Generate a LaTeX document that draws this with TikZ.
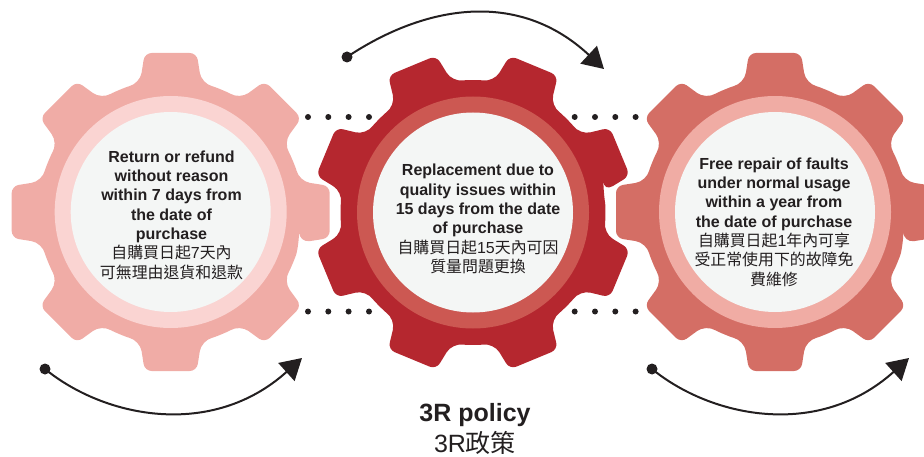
\documentclass[tikz,border=0pt]{standalone}
\usepackage{fontspec}
\setmainfont{Liberation Sans}
\newfontfamily\cjk{Noto Sans CJK TC}
\usetikzlibrary{arrows.meta}
\definecolor{inkc}{HTML}{231F20}
\definecolor{coreC}{HTML}{F4F6F5}
\definecolor{gearA}{HTML}{F0ACA6}
\definecolor{ringA}{HTML}{FAD4D2}
\definecolor{gearB}{HTML}{B5272F}
\definecolor{ringB}{HTML}{CC5852}
\definecolor{gearC}{HTML}{D46E65}
\definecolor{ringC}{HTML}{F0ACA4}
\tikzset{
  ringdisc/.style={circle,inner sep=0pt,minimum size=232pt,fill=#1},
  coredisc/.style={circle,inner sep=0pt,minimum size=200pt,fill=coreC},
  gearlabel/.style={align=center,inner sep=0pt,text=inkc,font=\fontsize{16}{19.3}\selectfont},
  dotmark/.style={circle,inner sep=0pt,minimum size=6pt,fill=inkc},
  startmark/.style={circle,inner sep=0pt,minimum size=11pt,fill=inkc},
  turn/.style={draw=inkc,line width=2pt,-{Triangle[length=21pt,width=24pt]}},
  titlelabel/.style={inner sep=0pt,text=inkc,font=\fontsize{25}{28}\selectfont}
}
\newcommand{\gearshape}[4]{% centre x, y, phase, colour
  \fill[#4,rounded corners=11pt,shift={(#1,#2)}]
    ({#3-13.5}:132)
    \foreach \a in {0,45,...,315} {
      [rounded corners=7pt]
      -- ([rotate={\a+#3}]159,-26)
      -- ([rotate={\a+#3}]159,26) [rounded corners=11pt]
      -- ({\a+#3+13.5}:132)
      arc[start angle={\a+#3+13.5},delta angle=18,radius=132]
    } -- cycle;
}
\newcommand{\zh}[1]{{\cjk\fontsize{15.9}{19.3}\selectfont #1}}
\begin{document}
\begin{tikzpicture}[x=1pt,y=1pt]
\useasboundingbox (0,0) rectangle (924,456);
\clip (0,0) rectangle (924,456);
% dots
\foreach \i/\px in {1/308,2/328.3,3/348.6,4/369,5/574.7,6/595,7/615.3,8/635.6} {
  \node[dotmark] (dt\i) at (\px,339) {};
  \node[dotmark] (db\i) at (\px,144.5) {};
}
% gears
\gearshape{170.7}{244}{0}{gearA}
\gearshape{473}{243.5}{22.5}{gearB}
\gearshape{775}{244}{0}{gearC}
\node[ringdisc=ringA] (ringa) at (170.7,244) {};
\node[ringdisc=ringB] (ringb) at (473,243.5) {};
\node[ringdisc=ringC] (ringc) at (775,244) {};
\node[coredisc] (corea) at (170.7,244) {};
\node[coredisc] (coreb) at (473,243.5) {};
\node[coredisc] (corec) at (775,244) {};
% texts
\node[gearlabel] (texta) at (171.5,241) {\textbf{Return or refund}\\\textbf{without reason}\\\textbf{within 7 days from}\\\textbf{the date of}\\\textbf{purchase}\\\zh{自購買日起}7\zh{天內}\\\zh{可無理由退貨和退款}};
\node[gearlabel] (textb) at (478,237) {\textbf{Replacement due to}\\\textbf{quality issues within}\\\textbf{15 days from the date}\\\textbf{of purchase}\\\zh{自購買日起}15\zh{天內可因}\\\zh{質量問題更換}};
\node[gearlabel] (textc) at (774,234) {\textbf{Free repair of faults}\\\textbf{under normal usage}\\\textbf{within a year from}\\\textbf{the date of purchase}\\\zh{自購買日起}1\zh{年內可享}\\\zh{受正常使用下的故障免}\\\zh{費維修}};
% turn arrows
\node[startmark] (sa) at (45,87) {};
\node[startmark] (sb) at (347,399) {};
\node[startmark] (sc) at (652,87) {};
\coordinate (ea) at (302,98);
\coordinate (eb) at (604,387);
\coordinate (ec) at (909,98);
\draw[turn] (sa.center) .. controls (105,38) and (212,17) .. (ea);
\draw[turn] (sb.center) .. controls (425,451) and (518,467) .. (eb);
\draw[turn] (sc.center) .. controls (712,38) and (819,17) .. (ec);
% title
\node[titlelabel] (title) at (475,41) {\textbf{3R policy}};
\node[titlelabel] (titlezh) at (475,13) {3R{\cjk 政策}};
\end{tikzpicture}
\end{document}
